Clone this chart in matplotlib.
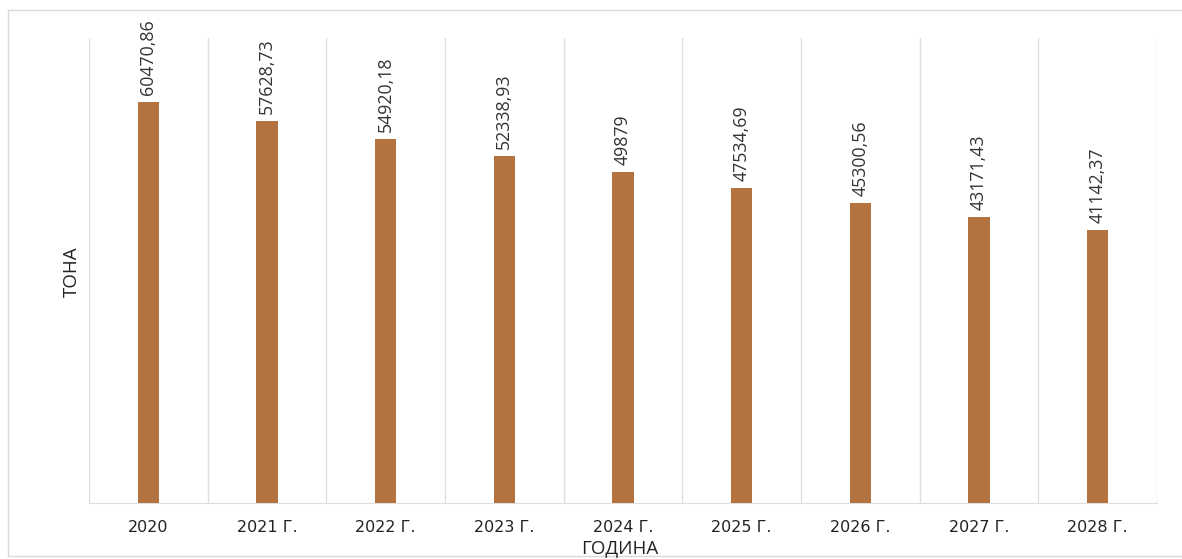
import matplotlib
matplotlib.use("Agg")
import matplotlib.pyplot as plt
from matplotlib.patches import Rectangle

categories = ["2020", "2021 Г.", "2022 Г.", "2023 Г.", "2024 Г.", "2025 Г.", "2026 Г.", "2027 Г.", "2028 Г."]
values = [60470.86, 57628.73, 54920.18, 52338.93, 49879, 47534.69, 45300.56, 43171.43, 41142.37]
labels = ["60470,86", "57628,73", "54920,18", "52338,93", "49879", "47534,69", "45300,56", "43171,43", "41142,37"]

plt.rcParams['font.family'] = ['Open Sans', 'DejaVu Sans']

W, H = 1182, 559
fig = plt.figure(figsize=(W / 100, H / 100), dpi=100)
left, right, top, bottom = 89, 1157, 38, 503
ax = fig.add_axes([left / W, 1 - bottom / H, (right - left) / W, (bottom - top) / H])

x = list(range(len(categories)))
ax.bar(x, values, width=0.18, color="#B4723E", zorder=3)
ax.set_xlim(-0.5, len(categories) - 0.5)
ax.set_ylim(0, 70100)

for i in range(len(categories) + 1):
    ax.axvline(i - 0.5, color="#DDDDDD", lw=1.0, zorder=1)

for xi, v, lab in zip(x, values, labels):
    ax.annotate(lab, (xi, v), xytext=(0, 5), textcoords="offset points",
                rotation=90, ha="center", va="bottom", fontsize=12.8, color="#333333")

for s in ["top", "right", "left"]:
    ax.spines[s].set_visible(False)
ax.spines["bottom"].set_color("#DDDDDD")
ax.set_yticks([])
ax.set_xticks(x)
ax.set_xticklabels(categories, fontsize=11.5, color="#222222", family="DejaVu Sans")
ax.tick_params(axis="x", length=0, pad=12)

fig.text(620 / W, 1 - 548 / H, "ГОДИНА", ha="center", va="center", fontsize=13.5, color="#222222")
fig.text(72 / W, 1 - 272 / H, "ТОНА", ha="center", va="center", rotation=90, fontsize=13.5, color="#222222")

fig.patches.append(Rectangle((8 / W, 1 - 556 / H), 1.1, (556 - 10) / H, transform=fig.transFigure,
                             fill=False, edgecolor="#D9D9D9", lw=1.0))

fig.savefig("out.png", dpi=100)
